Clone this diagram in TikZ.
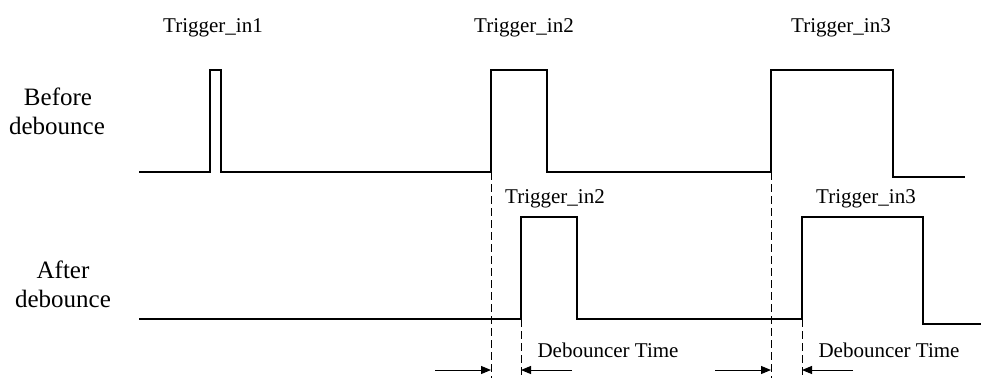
\documentclass[tikz,border=0pt]{standalone}
\usepackage{fontspec}
\setmainfont{Liberation Serif}
\usetikzlibrary{arrows.meta}
\begin{document}
\begin{tikzpicture}[x=1bp,y=-1bp,
  wave/.style={line width=1.3bp,line join=miter},
  guide/.style={line width=1bp,dash pattern=on 8bp off 4bp},
  dimarrow/.style={line width=1bp,-{Triangle[length=10bp,width=8bp]}},
  lbl/.style={font=\fontsize{21bp}{24bp}\selectfont,anchor=base,inner sep=0pt},
  side/.style={font=\fontsize{25bp}{29bp}\selectfont,anchor=base,inner sep=0pt}]
\useasboundingbox (0,0) rectangle (981,378);
% labels
\node[lbl] (t1) at (213,32) {Trigger\_in1};
\node[lbl] (t2) at (524,32) {Trigger\_in2};
\node[lbl] (t3) at (841,32) {Trigger\_in3};
\node[lbl] (a2) at (555,203) {Trigger\_in2};
\node[lbl] (a3) at (866,203) {Trigger\_in3};
\node[lbl] (d2) at (608,357) {Debouncer Time};
\node[lbl] (d3) at (889,357) {Debouncer Time};
\node[side] (b1) at (58,105) {Before};
\node[side] (b2) at (57,134) {debounce};
\node[side] (c1) at (63,278) {After};
\node[side] (c2) at (63,307) {debounce};
% waveforms
\draw[wave] (139,172) -- (210,172) -- (210,70) -- (221,70) -- (221,172)
  -- (491,172) -- (491,70) -- (547,70) -- (547,172) -- (771,172)
  -- (771,70) -- (893,70) -- (893,177) -- (965,177);
\draw[wave] (139,319) -- (521,319) -- (521,217) -- (577,217) -- (577,319)
  -- (802,319) -- (802,217) -- (923,217) -- (923,324) -- (981,324);
% guides
\coordinate (g1t) at (491,172); \coordinate (g1b) at (491,378);
\coordinate (g2t) at (521,319); \coordinate (g2b) at (521,378);
\coordinate (g3t) at (771,172); \coordinate (g3b) at (771,378);
\coordinate (g4t) at (802,319); \coordinate (g4b) at (802,378);
\draw[guide] (g1t) -- (g1b);
\draw[guide] (g2t) -- (g2b);
\draw[guide] (g3t) -- (g3b);
\draw[guide] (g4t) -- (g4b);
% arrows
\coordinate (p1) at (435,370); \coordinate (q1) at (491,370);
\coordinate (p2) at (572,370); \coordinate (q2) at (521,370);
\coordinate (p3) at (715,370); \coordinate (q3) at (771,370);
\coordinate (p4) at (853,370); \coordinate (q4) at (802,370);
\draw[dimarrow] (p1) -- (q1);
\draw[dimarrow] (p2) -- (q2);
\draw[dimarrow] (p3) -- (q3);
\draw[dimarrow] (p4) -- (q4);
\end{tikzpicture}
\end{document}
